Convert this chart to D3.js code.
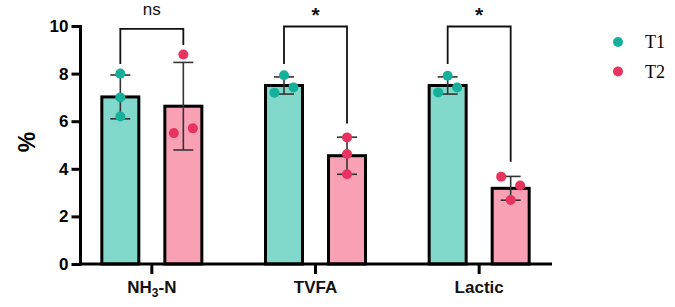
<!DOCTYPE html>
<html><head><meta charset="utf-8">
<script src="https://cdn.jsdelivr.net/npm/d3@7"></script>
<style>body{margin:0;background:#fff}svg{display:block}</style>
</head><body>
<script>
const categories = ["NH3-N", "TVFA", "Lactic"];
const groups = ["T1", "T2"];
const meanT1 = [7.02, 7.5, 7.5];
const meanT2 = [6.63, 4.55, 3.18];
const sdT1 = [0.92, 0.36, 0.36];
const sdT2 = [1.84, 0.78, 0.5];
const pointsT1 = [[8.0, 7.0, 6.2], [7.93, 7.2, 7.42], [7.91, 7.21, 7.42]];
const pointsT2 = [[8.8, 5.5, 5.7], [5.32, 4.62, 3.77], [3.67, 3.3, 2.69]];
const pointOffsetsT1 = [[0, 0, 0], [0, -1, 1], [0, -1, 1]];
const pointOffsetsT2 = [[0, -1, 1], [0, 0, 0], [-1, 1, 0]];
const sigLabels = ["ns", "*", "*"];
const yTicks = [0, 2, 4, 6, 8, 10];

const W = 675, H = 307;
const svg = d3.select("body").append("svg").attr("width", W).attr("height", H);

const x0 = d3.scaleBand().domain(categories).range([70, 561]).padding(0);
const x1 = d3.scaleBand().domain(groups).range([-50, 50]).paddingInner(0.413);
const y = d3.scaleLinear().domain([0, 10]).range([264, 26]);

const colBar = {T1: "#83d8cc", T2: "#f8a1b5"};
const colPt = {T1: "#14b09b", T2: "#e83360"};
const FONT = "Liberation Sans, Arial, sans-serif";

const data = categories.map((c, i) => ({
  cat: c,
  vals: [
    {g: "T1", mean: meanT1[i], sd: sdT1[i], pts: pointsT1[i], offs: pointOffsetsT1[i]},
    {g: "T2", mean: meanT2[i], sd: sdT2[i], pts: pointsT2[i], offs: pointOffsetsT2[i]}
  ]
}));

const cx = (c, g) => x0(c) + x0.bandwidth() / 2 + x1(g) + x1.bandwidth() / 2;
const bw = x1.bandwidth();

// bars
data.forEach(d => {
  d.vals.forEach(v => {
    const xc = cx(d.cat, v.g);
    svg.append("rect")
      .attr("x", xc - bw / 2).attr("y", y(v.mean))
      .attr("width", bw).attr("height", y(0) - y(v.mean))
      .attr("fill", colBar[v.g]).attr("stroke", "#000").attr("stroke-width", 3);
  });
});

// error bars
data.forEach(d => {
  d.vals.forEach(v => {
    const xc = cx(d.cat, v.g);
    const g = svg.append("g").attr("stroke", "#333").attr("stroke-width", 1.6);
    g.append("line").attr("x1", xc).attr("x2", xc).attr("y1", y(v.mean + v.sd)).attr("y2", y(v.mean - v.sd));
    [v.mean + v.sd, v.mean - v.sd].forEach(e => {
      g.append("line").attr("x1", xc - 10).attr("x2", xc + 10).attr("y1", y(e)).attr("y2", y(e));
    });
  });
});

// points
data.forEach(d => {
  d.vals.forEach(v => {
    const xc = cx(d.cat, v.g);
    v.pts.forEach((p, k) => {
      svg.append("circle").attr("cx", xc + v.offs[k] * 9.5).attr("cy", y(p)).attr("r", 5)
        .attr("fill", colPt[v.g]);
    });
  });
});

// axes
const yAxis = svg.append("g").attr("transform", "translate(80.5,0)")
  .call(d3.axisLeft(y).tickValues(yTicks).tickSize(9).tickPadding(3).tickSizeOuter(0));
yAxis.select(".domain").attr("stroke-width", 3).attr("d", `M0,${y(10)-1}V${y(0)+1.5}`);
yAxis.selectAll(".tick line").attr("stroke-width", 3);
yAxis.selectAll(".tick text").attr("font-family", FONT)
  .attr("font-weight", "bold").attr("font-size", 17).attr("fill", "#000");

const xAxis = svg.append("g").attr("transform", "translate(0,264)")
  .call(d3.axisBottom(x0).tickSize(10).tickSizeOuter(0).tickFormat(""));
xAxis.select(".domain").attr("stroke-width", 3).attr("d", `M79,0H552`);
xAxis.selectAll(".tick line").attr("stroke-width", 3);

// x labels
categories.forEach(c => {
  const t = svg.append("text").attr("x", x0(c) + x0.bandwidth() / 2).attr("y", 293)
    .attr("text-anchor", "middle").attr("font-family", FONT)
    .attr("font-weight", "bold").attr("font-size", 17).attr("fill", "#111");
  if (c === "NH3-N") {
    t.append("tspan").text("NH");
    t.append("tspan").text("3").attr("font-size", 12).attr("dy", 4);
    t.append("tspan").text("-N").attr("dy", -4);
  } else t.text(c);
});

// y title
svg.append("text").attr("transform", "translate(35,142) rotate(-90)")
  .attr("text-anchor", "middle").attr("font-family", FONT)
  .attr("font-weight", "bold").attr("font-size", 23).attr("fill", "#000").text("%");

// significance brackets
const legTop = [[8.4, 9.2], [8.4, 5.9], [8.4, 4.3]];
data.forEach((d, i) => {
  const xa = cx(d.cat, "T1"), xb = cx(d.cat, "T2");
  const top = i === 0 ? 9.88 : 9.98;
  svg.append("path")
    .attr("d", `M${xa},${y(legTop[i][0])}V${y(top)}H${xb}V${y(legTop[i][1])}`)
    .attr("fill", "none").attr("stroke", "#111").attr("stroke-width", 1.8);
  const isNs = sigLabels[i] === "ns";
  svg.append("text").attr("x", (xa + xb) / 2).attr("y", isNs ? 15 : 22)
    .attr("text-anchor", "middle").attr("font-family", FONT)
    .attr("font-weight", isNs ? "normal" : "bold").attr("font-size", isNs ? 17 : 21)
    .attr("fill", "#111").text(sigLabels[i]);
});

// legend
groups.forEach((g, i) => {
  svg.append("circle").attr("cx", 618).attr("cy", 42 + i * 29.5).attr("r", 5).attr("fill", colPt[g]);
  svg.append("text").attr("x", 645).attr("y", 48 + i * 29.5)
    .attr("font-family", "Liberation Serif, Times New Roman, serif").attr("font-size", 18)
    .attr("fill", "#000").text(g);
});
</script>
</body></html>
